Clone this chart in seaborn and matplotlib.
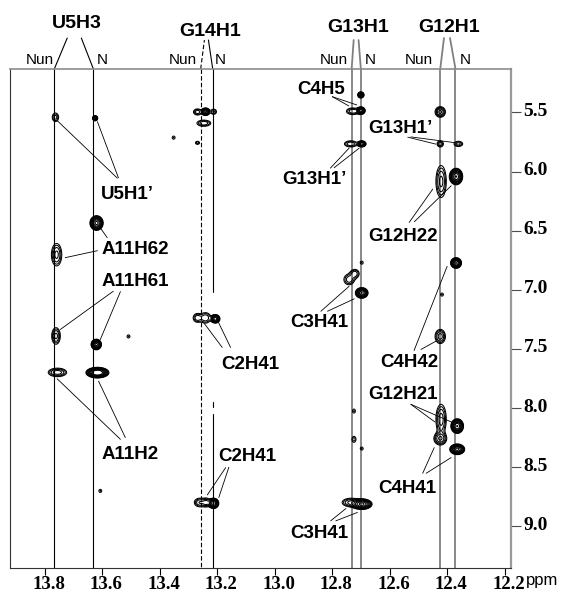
import numpy as np
import matplotlib
matplotlib.use("Agg")
from matplotlib import pyplot as plt
from matplotlib.transforms import ScaledTranslation
import seaborn as sns

# imino proton columns (ppm) for the two conformers
residues = ['U5H3', 'G14H1', 'G13H1', 'G12H1']
col_nun = [13.766, 13.257, 12.732, 12.424]
col_n = [13.630, 13.215, 12.700, 12.371]

# cross peaks: centre (ppm), half size of outer contour (ppm), height
peak_x = [13.762, 13.624, 13.619, 13.758, 13.760, 13.620, 13.755, 13.616,
          13.268, 13.240, 13.212, 13.246, 13.268, 13.269, 13.240, 13.206,
          13.261, 13.237, 13.212,
          12.700, 12.728, 12.700, 12.735, 12.697, 12.741, 12.721, 12.697,
          12.735, 12.697,
          12.424, 12.424, 12.361, 12.421, 12.369, 12.369, 12.424, 12.421,
          12.365, 12.424, 12.365,
          13.351, 13.508, 13.606, 12.724, 12.724, 12.697, 12.697, 12.418]
peak_y = [5.541, 5.549, 6.435, 6.703, 7.390, 7.462, 7.698, 7.700,
          5.496, 5.494, 5.494, 5.591, 5.757, 7.237, 7.237, 7.245,
          8.798, 8.798, 8.805,
          5.352, 5.490, 5.485, 5.766, 5.766, 6.913, 6.863, 7.026,
          8.798, 8.812,
          5.496, 5.766, 5.766, 6.084, 6.042, 6.773, 7.394, 8.095,
          8.152, 8.258, 8.348,
          5.713, 7.394, 8.700, 8.025, 8.264, 8.342, 6.770, 7.040]
peak_hx = [0.011, 0.009, 0.023, 0.018, 0.015, 0.018, 0.032, 0.040,
           0.014, 0.015, 0.010, 0.024, 0.007, 0.014, 0.018, 0.016,
           0.018, 0.015, 0.018,
           0.011, 0.022, 0.015, 0.022, 0.015, 0.018, 0.015, 0.022,
           0.030, 0.036,
           0.018, 0.011, 0.015, 0.018, 0.023, 0.019, 0.018, 0.018,
           0.022, 0.022, 0.026,
           0.005, 0.005, 0.005, 0.005, 0.007, 0.005, 0.005, 0.005]
peak_hy = [0.036, 0.022, 0.062, 0.095, 0.070, 0.045, 0.036, 0.045,
           0.026, 0.032, 0.022, 0.026, 0.013, 0.036, 0.044, 0.036,
           0.036, 0.036, 0.044,
           0.026, 0.028, 0.032, 0.026, 0.026, 0.044, 0.036, 0.045,
           0.036, 0.045,
           0.045, 0.026, 0.022, 0.135, 0.070, 0.045, 0.060, 0.127,
           0.062, 0.053, 0.045,
           0.013, 0.013, 0.013, 0.017, 0.025, 0.013, 0.013, 0.013]
peak_amp = [0.5, 2.0, 4.5, 0.7, 0.7, 4.5, 0.8, 8.0,
            0.55, 3.0, 0.45, 0.6, 0.35, 0.55, 0.6, 3.5,
            0.6, 0.7, 4.0,
            3.0, 0.6, 3.5, 0.6, 2.5, 0.55, 0.55, 4.0,
            0.7, 4.5,
            1.0, 0.55, 0.5, 0.7, 4.0, 4.0, 0.75, 0.75,
            4.0, 0.9, 4.5,
            0.3, 0.3, 0.3, 0.3, 0.35, 0.3, 0.3, 0.3]

xticks = [13.8, 13.6, 13.4, 13.2, 13.0, 12.8, 12.6, 12.4, 12.2]
yticks = [5.5, 6.0, 6.5, 7.0, 7.5, 8.0, 8.5, 9.0]

# assignment labels: text, position, leader lines
labels = [
    ("U5H1\u2019", 13.513, 6.196, [(13.547, 6.055, 13.756, 5.569), (13.543, 6.053, 13.616, 5.578)]),
    ("A11H62", 13.484, 6.660, [(13.582, 6.559, 13.606, 6.475), (13.616, 6.669, 13.728, 6.728)]),
    ("A11H61", 13.484, 6.928, [(13.561, 7.012, 13.745, 7.335), (13.536, 7.015, 13.606, 7.420)]),
    ("A11H2", 13.501, 8.390, [(13.536, 8.264, 13.756, 7.752), (13.519, 8.249, 13.612, 7.772)]),
    ("C2H41", 13.086, 7.631, [(13.182, 7.487, 13.246, 7.279), (13.153, 7.487, 13.195, 7.276)]),
    ("C2H41", 13.095, 8.413, [(13.170, 8.503, 13.234, 8.734), (13.159, 8.500, 13.194, 8.756)]),
    ("C4H5", 12.839, 5.304, [(12.799, 5.367, 12.742, 5.445), (12.799, 5.367, 12.714, 5.437)]),
    ("G13H1\u2019", 12.863, 6.070, [(12.806, 5.971, 12.741, 5.802), (12.793, 5.968, 12.706, 5.802)]),
    ("G13H1\u2019", 12.561, 5.633, [(12.537, 5.709, 12.439, 5.768), (12.526, 5.707, 12.375, 5.755)]),
    ("G12H22", 12.555, 6.548, [(12.532, 6.430, 12.450, 6.148), (12.514, 6.424, 12.386, 6.120)]),
    ("C3H41", 12.845, 7.279, [(12.839, 7.181, 12.741, 6.970), (12.816, 7.181, 12.723, 7.076)]),
    ("C4H42", 12.532, 7.616, [(12.515, 7.513, 12.400, 6.801), (12.491, 7.504, 12.439, 7.434)]),
    ("G12H21", 12.555, 7.884, [(12.526, 7.968, 12.442, 8.118), (12.526, 7.968, 12.380, 8.123)]),
    ("C4H41", 12.537, 8.680, [(12.485, 8.551, 12.445, 8.334), (12.473, 8.551, 12.386, 8.418)]),
    ("C3H41", 12.845, 9.057, [(12.805, 8.953, 12.752, 8.849), (12.787, 8.953, 12.712, 8.882)]),
]

# header: label pos, Nun/N text x, converging point of the column lines
headers = [
    (13.686, 4.749, 13.818, 13.599, 13.721, 13.672, 4.871),
    (13.223, 4.812, 13.318, 13.188, 13.244, 13.230, 4.888),
    (12.710, 4.783, 12.794, 12.669, 12.725, 12.708, 4.888),
    (12.393, 4.783, 12.499, 12.338, 12.411, 12.390, 4.871),
]
col_color = ['black', 'black', '0.5', '0.5']
col_lw = [0.8, 0.8, 1.3, 1.3]

sns.set_theme(style="white")
plt.rcParams['font.family'] = ['Liberation Sans', 'DejaVu Sans']
plt.rcParams['text.color'] = 'black'
plt.rcParams['xtick.color'] = 'black'
plt.rcParams['ytick.color'] = 'black'

fig = plt.figure(figsize=(5.71, 5.92), dpi=100)
ax = fig.add_axes([0.0175, 0.0405, 0.8774, 0.8429])

xlim = (13.92, 12.178)
ylim = (9.352, 5.133)

# spectrum surface from the peak list
gx = np.linspace(12.17, 13.93, 1500)
gy = np.linspace(5.12, 9.36, 1300)
X, Y = np.meshgrid(gx, gy)
Z = np.zeros_like(X)
L0 = 0.2
for x0, y0, hx, hy, a in zip(peak_x, peak_y, peak_hx, peak_hy, peak_amp):
    s = np.sqrt(2 * np.log(a / L0))
    Z += a * np.exp(-0.5 * (((X - x0) / (hx / s)) ** 2 + ((Y - y0) / (hy / s)) ** 2))
levels = L0 * 1.45 ** np.arange(9)
ax.contour(X, Y, Z, levels=levels, colors='black', linewidths=0.75)

# column guide lines
for i in range(len(residues)):
    c, lw = col_color[i], col_lw[i]
    ls_nun = (0, (4, 2)) if residues[i] == 'G14H1' else '-'
    ax.plot([col_nun[i], col_nun[i]], [ylim[1], ylim[0]], color=c, lw=lw, ls=ls_nun, zorder=1)
    if residues[i] == 'G14H1':
        ax.plot([col_n[i]] * 2, [ylim[1], 7.02], color=c, lw=lw, zorder=1)
        ax.plot([col_n[i]] * 2, [7.95, 7.99], color=c, lw=lw, zorder=1)
        ax.plot([col_n[i]] * 2, [8.05, ylim[0]], color=c, lw=lw, zorder=1)
    else:
        ax.plot([col_n[i], col_n[i]], [ylim[1], ylim[0]], color=c, lw=lw, zorder=1)

    lx, ly, tnun, tn, cnun, cn, cy = headers[i]
    ax.plot([col_nun[i], cnun], [ylim[1], cy], color=c, lw=lw, ls=ls_nun, clip_on=False)
    ax.plot([col_n[i], cn], [ylim[1], cy], color=c, lw=lw, clip_on=False)
    ax.text(lx, ly, residues[i], ha='center', va='center', fontsize=14, fontweight='bold')
    ax.text(tnun, 5.057, 'Nun', ha='center', va='center', fontsize=11)
    ax.text(tn, 5.057, 'N', ha='center', va='center', fontsize=11)

for txt, tx, ty, lines in labels:
    ax.text(tx, ty, txt, ha='center', va='center', fontsize=13.5, fontweight='bold')
    for x0, y0, x1, y1 in lines:
        ax.plot([x0, x1], [y0, y1], color='black', lw=0.6)

ax.set_xlim(*xlim)
ax.set_ylim(*ylim)

ax.set_xticks(xticks)
ax.set_xticklabels([f'{v:.1f}' for v in xticks], fontfamily='Liberation Serif',
                   fontweight='bold', fontsize=13.5)
ax.yaxis.tick_right()
ax.set_yticks(yticks)
ax.set_yticklabels([f'{v:.1f}' for v in yticks], fontfamily='Liberation Serif',
                   fontweight='bold', fontsize=14)
ax.tick_params(axis='x', bottom=True, direction='out', length=5, width=0.8,
               color='black', pad=0.5)
ax.tick_params(axis='y', right=True, left=False, labelright=True, labelleft=False,
               direction='out', length=7, width=0.8, color='0.3', pad=2)
for lab in ax.get_xticklabels():
    lab.set_transform(lab.get_transform() + ScaledTranslation(0.04, 0, fig.dpi_scale_trans))
for lab in ax.get_yticklabels():
    lab.set_transform(lab.get_transform() + ScaledTranslation(0, 0.03, fig.dpi_scale_trans))

for side in ['left', 'bottom']:
    ax.spines[side].set_color('0.2')
    ax.spines[side].set_linewidth(0.8)
ax.spines['top'].set_color('0.55')
ax.spines['top'].set_linewidth(1.2)
ax.spines['right'].set_color('0.6')
ax.spines['right'].set_linewidth(1.6)
ax.set_xlabel('')
ax.set_ylabel('')

fig.text(526 / 571, 1 - 581 / 592, 'ppm', ha='left', va='center', fontsize=12)

fig.savefig('out.png', dpi=100)
plt.close()
